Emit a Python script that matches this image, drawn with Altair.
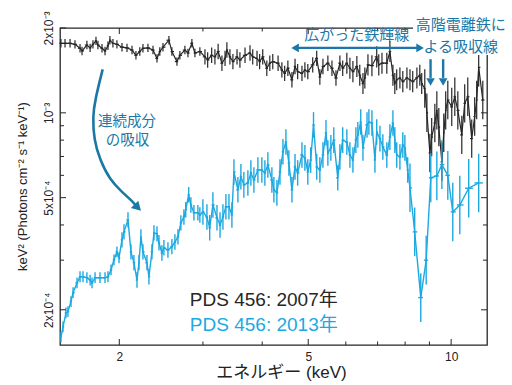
import altair as alt
import pandas as pd
import numpy as np

# ---------------- data (keV, flux in units of 1e-3) ----------------
black_E = [1.507,1.537,1.575,1.613,1.653,1.669,1.709,1.736,1.760,1.786,1.803,1.839,1.866,1.893,1.911,1.939,1.977,2.026,2.076,2.127,
           2.168,2.209,2.243,2.298,2.355,2.401,2.434,2.472,2.544,2.581,2.645,2.683,2.749,2.790,2.844,2.886,2.956,3.03,3.07,3.13,
           3.18,3.23,3.29,3.34,3.37,3.42,3.47,3.54,3.59,3.68,3.77,3.82,3.90,3.95,4.01,4.09,4.15,4.21,4.32,4.40,
           4.46,4.53,4.62,4.69,4.75,4.85,4.92,4.99,5.11,5.21,5.29,5.37,5.50,5.61,5.72,5.83,5.91,6.03,6.12,6.21,
           6.33,6.42,6.52,6.58,6.68,6.81,6.97,7.04,7.15,7.32,7.43,7.54,7.61,7.68,7.80,7.91,8.07,8.19,8.30,8.47,
           8.59,8.67,8.80,8.89,9.02,9.10,9.24,9.33,9.42,9.56,9.65,9.74,9.84,10.03,10.18,10.33,10.53,10.68,10.84,11.05,
           11.21,11.32,11.43,11.66]
black_F = [1.765,1.765,1.765,1.75,1.695,1.658,1.74,1.70,1.75,1.80,1.74,1.695,1.658,1.73,1.81,1.765,1.75,1.71,1.70,1.67,
           1.60,1.65,1.695,1.70,1.67,1.56,1.65,1.71,1.81,1.65,1.52,1.60,1.67,1.63,1.765,1.63,1.65,1.58,1.54,1.60,
           1.58,1.65,1.50,1.56,1.67,1.58,1.52,1.58,1.54,1.60,1.63,1.58,1.56,1.52,1.58,1.44,1.50,1.52,1.50,1.42,
           1.38,1.44,1.31,1.46,1.40,1.38,1.42,1.40,1.48,1.56,1.34,1.46,1.50,1.44,1.33,1.50,1.44,1.50,1.44,1.40,
           1.46,1.36,1.27,1.33,1.48,1.47,1.58,1.48,1.50,1.50,1.65,1.36,1.27,1.31,1.33,1.29,1.33,1.31,1.29,1.33,
           1.36,1.27,1.22,1.00,0.72,0.82,0.92,1.02,0.89,0.67,0.85,1.02,1.11,1.05,1.14,1.02,0.835,1.08,1.14,0.81,
           0.97,1.11,1.45,1.11]
black_err_edges = [0.0, 3.0, 6.0, 8.75]
black_err = [0.035, 0.065, 0.09, 0.17]

blue_E = [1.507,1.522,1.544,1.559,1.582,1.598,1.629,1.653,1.677,1.709,1.736,1.752,1.778,1.821,1.866,1.893,1.921,1.949,1.977,1.997,
          2.026,2.046,2.086,2.116,2.147,2.179,2.200,2.221,2.243,2.287,2.309,2.343,2.366,2.401,2.424,2.459,2.483,2.532,2.581,2.619,
          2.658,2.696,2.736,2.76,2.80,2.830,2.872,2.928,2.956,3.000,3.059,3.10,3.149,3.212,3.26,3.306,3.354,3.404,3.453,3.487,
          3.555,3.607,3.659,3.731,3.786,3.842,3.917,3.993,4.052,4.111,4.192,4.233,4.295,4.36,4.423,4.487,4.552,4.62,4.69,4.75,
          4.85,4.92,4.99,5.06,5.13,5.21,5.29,5.37,5.45,5.50,5.58,5.66,5.77,5.83,5.91,6.03,6.12,6.21,6.30,6.36,
          6.45,6.52,6.65,6.71,6.81,6.91,6.97,7.08,7.18,7.32,7.43,7.54,7.61,7.68,7.80,7.91,7.99,8.10,8.19,8.38,
          8.63,8.86,9.06,9.33,9.56,9.84,10.08,10.43,10.89,11.43]
blue_F = [0.160,0.174,0.195,0.197,0.214,0.230,0.249,0.262,0.262,0.260,0.255,0.249,0.260,0.260,0.260,0.262,0.277,0.301,0.321,0.306,
          0.354,0.378,0.417,0.321,0.294,0.255,0.294,0.363,0.321,0.294,0.262,0.321,0.375,0.372,0.346,0.318,0.332,0.326,0.335,0.348,
          0.363,0.407,0.427,0.453,0.512,0.471,0.442,0.442,0.434,0.445,0.427,0.391,0.471,0.424,0.400,0.427,0.464,0.464,0.434,0.617,
          0.533,0.593,0.555,0.564,0.612,0.578,0.627,0.627,0.612,0.653,0.578,0.533,0.520,0.617,0.727,0.788,0.664,0.533,0.643,0.612,
          0.709,0.692,0.617,0.680,0.906,0.643,0.627,0.709,0.85,0.72,0.751,0.80,0.588,0.697,0.80,0.788,0.709,0.68,0.80,0.835,
          0.928,0.751,0.906,0.928,0.92,0.68,0.855,0.81,0.757,0.709,0.82,0.92,0.80,0.709,0.697,0.769,0.751,0.627,0.542,0.378,
          0.221,0.30,0.588,0.597,0.655,0.60,0.445,0.471,0.54,0.564]
blue_err_edges = [0.0, 2.0, 3.0, 8.15, 10.0]
blue_err = [0.045, 0.065, 0.11, 0.22, 0.27]

x_major = [2, 5, 10]
x_minor = [3, 4, 6, 7, 8, 9]
y_major = [2e-4, 5e-4, 1e-3, 2e-3]
y_major_labels = ["2x10⁻⁴", "5x10⁻⁴", "10⁻³", "2x10⁻³"]
y_minor = [3e-4, 4e-4, 6e-4, 7e-4, 8e-4, 9e-4]

# annotation anchors (data coordinates)
arc_E = [1.845, 1.778, 1.758, 1.769, 1.821, 1.911, 2.023, 2.116, 2.165]
arc_F = [1.427, 1.111, 0.969, 0.80, 0.68, 0.578, 0.525, 0.491, 0.47]

assert len(black_E) == len(black_F) and len(blue_E) == len(blue_F)

BLACK = "#262626"
BLUE = "#1ca9e2"
TEAL = "#1b78a6"
FONT = "Liberation Sans, Noto Sans CJK JP"
W, H = 427, 317


def make_df(E, F, edges, errs):
    E = np.array(E, dtype=float)
    F = np.array(F, dtype=float) * 1e-3
    idx = np.clip(np.searchsorted(edges, E, side="right") - 1, 0, len(errs) - 1)
    e = np.array(errs)[idx]
    lE = np.log(E)
    prev = np.r_[lE[0] - (lE[1] - lE[0]), lE[:-1]]
    nxt = np.r_[lE[1:], lE[-1] + (lE[-1] - lE[-2])]
    return pd.DataFrame(dict(E=E, F=F, Flo=F / (1 + e), Fhi=F * (1 + e),
                             Elo=np.exp(lE - 0.42 * (lE - prev)),
                             Ehi=np.exp(lE + 0.42 * (nxt - lE))))


dfk = make_df(black_E, black_F, black_err_edges, black_err)
dfb = make_df(blue_E, blue_F, blue_err_edges, blue_err)

xs = alt.Scale(type="log", domain=[1.5, 11.9], nice=False)
ys = alt.Scale(type="log", domain=[1.5e-4, 2e-3], nice=False)

label_expr = " : ".join(
    f"abs(datum.value - {v}) < {v*1e-3} ? '{t}'" for v, t in zip(y_major, y_major_labels)
) + " : ''"

X = alt.X("E:Q", scale=xs,
          axis=alt.Axis(values=x_major, format="~g", ticks=False, domain=False, grid=False,
                        labelFontSize=12, labelPadding=6, labelFont=FONT, labelColor="#222",
                        labelFlush=False, title="エネルギー (keV)", titleFont=FONT,
                        titleFontSize=17, titleFontWeight="normal", titleColor="#222",
                        titleX=221, titleY=19, titleBaseline="top"))
Y = alt.Y("F:Q", scale=ys,
          axis=alt.Axis(values=y_major, labelExpr=label_expr, ticks=False, domain=False, grid=False,
                        labelAngle=270, labelAlign="center", labelBaseline="bottom",
                        labelFontSize=12, labelPadding=5, labelFont=FONT, labelColor="#222",
                        title="keV² (Photons cm⁻² s⁻¹ keV⁻¹)", titleFont=FONT, titleFontSize=13,
                        titleFontWeight="normal", titleColor="#222", titleX=-38, titleY=158,
                        titleAngle=270, titleBaseline="middle", titleAlign="center"))

xq = alt.X("E:Q", scale=xs)
yq = alt.Y("F:Q", scale=ys)


def series(df, color, lw):
    base = alt.Chart(df)
    line = base.mark_line(color=color, strokeWidth=lw).encode(x=xq, y=yq)
    ebar = base.mark_rule(color=color, strokeWidth=lw).encode(x=xq, y=yq, y2="Fhi:Q")
    ebar2 = base.mark_rule(color=color, strokeWidth=lw).encode(x=xq, y="Flo:Q", y2="F:Q")
    hbar = base.mark_rule(color=color, strokeWidth=lw).encode(x="Elo:Q", x2="Ehi:Q", y=yq)
    return [line, ebar, ebar2, hbar]


main = alt.Chart(dfk).mark_line(color=BLACK, strokeWidth=1.2).encode(x=X, y=Y)
layers = [main] + series(dfk, BLACK, 1.2)[1:] + series(dfb, BLUE, 1.4)

# inward ticks on all four sides
def xticks(vals, L):
    d = pd.DataFrame({"E": vals})
    b = alt.Chart(d).mark_rule(color=BLACK, strokeWidth=1)
    return [b.encode(x=xq, y=alt.value(H), y2=alt.value(H - L)),
            b.encode(x=xq, y=alt.value(0), y2=alt.value(L))]


def yticks(vals, L):
    d = pd.DataFrame({"F": vals})
    b = alt.Chart(d).mark_rule(color=BLACK, strokeWidth=1)
    return [b.encode(y=yq, x=alt.value(0), x2=alt.value(L)),
            b.encode(y=yq, x=alt.value(W), x2=alt.value(W - L))]


layers += xticks(x_major, 6) + xticks(x_minor, 3.5) + yticks(y_major, 6) + yticks(y_minor, 4)

# white box hiding the frame corner behind the absorption label
layers.append(alt.Chart(pd.DataFrame({"a": [0]})).mark_rect(color="white").encode(
    x=alt.value(353), x2=alt.value(470), y=alt.value(-28), y2=alt.value(27)))

# curved arrow (continuum absorption)
arc = pd.DataFrame({"E": arc_E, "F": np.array(arc_F) * 1e-3, "o": range(len(arc_E))})
layers.append(alt.Chart(arc).mark_line(color=TEAL, strokeWidth=2.6, interpolate="basis").encode(
    x=xq, y=yq, order="o:Q"))
layers.append(alt.Chart(pd.DataFrame({"E": [2.176], "F": [0.465e-3]})).mark_point(
    shape="triangle", filled=True, angle=135, size=110, color=TEAL, opacity=1).encode(x=xq, y=yq))

# broad iron line double arrow
layers.append(alt.Chart(pd.DataFrame({"E": [4.76, 8.47], "F": [1.70e-3, 1.70e-3]})).mark_line(
    color=TEAL, strokeWidth=2.4).encode(x=xq, y=yq))
for ang, e in [(270, 4.72), (90, 8.55)]:
    layers.append(alt.Chart(pd.DataFrame({"E": [e], "F": [1.70e-3]})).mark_point(
        shape="triangle", filled=True, angle=ang, size=75, color=TEAL, opacity=1).encode(x=xq, y=yq))

# absorption-line down arrows
for e in [9.05, 9.62]:
    layers.append(alt.Chart(pd.DataFrame({"E": [e], "F": [1.55e-3], "F2": [1.33e-3]})).mark_rule(
        color=TEAL, strokeWidth=2.4).encode(x=xq, y=yq, y2="F2:Q"))
    layers.append(alt.Chart(pd.DataFrame({"E": [e], "F": [1.30e-3]})).mark_point(
        shape="triangle", filled=True, angle=180, size=75, color=TEAL, opacity=1).encode(x=xq, y=yq))

# texts
def text(items, color, size, align="center", baseline="middle"):
    d = pd.DataFrame(items, columns=["E", "F", "t"])
    return alt.Chart(d).mark_text(color=color, fontSize=size, font=FONT, align=align,
                                  baseline=baseline).encode(x=xq, y=yq, text="t:N")


layers.append(text([(2.076, 0.928e-3, "連続成分"), (2.08, 0.792e-3, "の吸収")], TEAL, 14.5))
layers.append(text([(6.33, 1.89e-3, "広がった鉄輝線")], TEAL, 15))
layers.append(text([(10.48, 2.05e-3, "高階電離鉄に"), (10.48, 1.706e-3, "よる吸収線")], TEAL, 15))
layers.append(text([(2.816, 0.207e-3, "PDS 456: 2007年")], BLACK, 19, "left", "alphabetic"))
layers.append(text([(2.816, 0.1676e-3, "PDS 456: 2013年")], BLUE, 19, "left", "alphabetic"))

chart = alt.layer(*layers).properties(
    width=W, height=H,
    background="white",
    autosize=alt.AutoSizeParams(type="none"),
    padding={"left": 60, "top": 28, "right": 25, "bottom": 40},
).configure_view(stroke=BLACK, strokeWidth=1.3)

chart.save("out.html", embed_options={"renderer": "svg", "actions": False})
